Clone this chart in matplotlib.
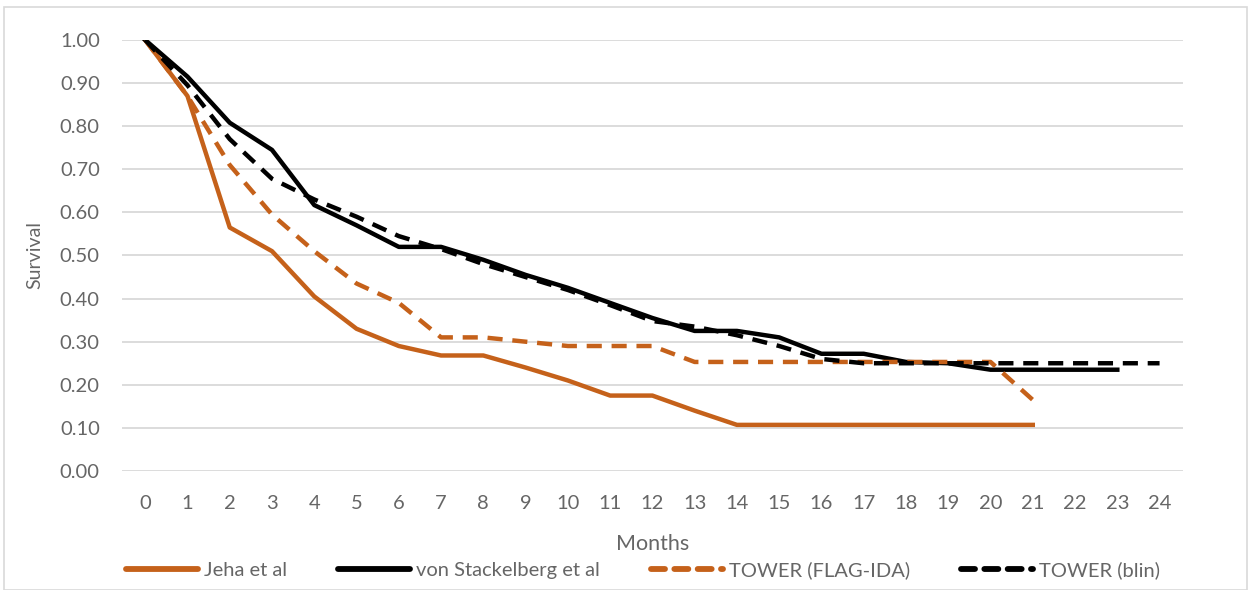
import matplotlib
matplotlib.use("Agg")
import matplotlib.pyplot as plt
from matplotlib.patches import Rectangle
from matplotlib.lines import Line2D

plt.rcParams['font.family'] = ['Lato', 'DejaVu Sans']

months = list(range(0, 25))
jeha = [1.00, 0.87, 0.565, 0.51, 0.405, 0.33, 0.29, 0.268, 0.268, 0.24, 0.21,
        0.175, 0.175, 0.14, 0.107, 0.107, 0.107, 0.107, 0.107, 0.107, 0.107, 0.107]
stackelberg = [1.00, 0.915, 0.808, 0.745, 0.617, 0.57, 0.52, 0.52, 0.49, 0.455, 0.425,
               0.39, 0.355, 0.325, 0.325, 0.31, 0.272, 0.272, 0.253, 0.25, 0.235,
               0.235, 0.235, 0.235]
tower_flag = [1.00, 0.87, 0.71, 0.595, 0.51, 0.435, 0.39, 0.31, 0.31, 0.30, 0.29,
              0.29, 0.29, 0.253, 0.253, 0.253, 0.253, 0.253, 0.253, 0.253, 0.253, 0.165]
tower_blin = [1.00, 0.895, 0.77, 0.678, 0.63, 0.59, 0.545, 0.515, 0.48, 0.45, 0.42,
              0.385, 0.348, 0.335, 0.315, 0.29, 0.26, 0.25, 0.25, 0.25, 0.25, 0.25,
              0.25, 0.25, 0.25]
y_ticks = [0.0, 0.1, 0.2, 0.3, 0.4, 0.5, 0.6, 0.7, 0.8, 0.9, 1.0]

orange = "#C5611A"
black = "#000000"
text_col = "#666666"
grid_col = "#D9D9D9"

fig = plt.figure(figsize=(12.51, 5.90), dpi=100)
fig.patches.append(Rectangle((0.003, 0.0), 0.994, 0.988, transform=fig.transFigure,
                             fill=False, edgecolor="#D9D9D9", linewidth=1.2))
ax = fig.add_axes([0.0975, 0.2017, 0.848, 0.7305])

lw = 3.2
dash = (3.4, 2.2)
ax.plot(months[:len(jeha)], jeha, color=orange, lw=lw, label="Jeha et al")
ax.plot(months[:len(stackelberg)], stackelberg, color=black, lw=lw,
        label="von Stackelberg et al")
ax.plot(months[:len(tower_flag)], tower_flag, color=orange, lw=lw, dashes=dash,
        label="TOWER (FLAG-IDA)")
ax.plot(months[:len(tower_blin)], tower_blin, color=black, lw=lw, dashes=dash,
        label="TOWER (blin)")

ax.set_xlim(-0.55, 24.55)
ax.set_ylim(0, 1.0)
ax.set_yticks(y_ticks)
ax.set_yticklabels([f"{v:.2f}" for v in y_ticks])
ax.set_xticks(months)
ax.set_xticklabels([str(m) for m in months])
ax.grid(axis="y", color=grid_col, linewidth=1.3)
ax.set_axisbelow(True)
for s in ax.spines.values():
    s.set_visible(False)
ax.tick_params(axis="both", length=0, labelsize=14.5, colors=text_col)
ax.tick_params(axis="x", pad=17)
ax.tick_params(axis="y", pad=16)

ax.set_ylabel("Survival", fontsize=14, color=text_col, labelpad=12)
ax.set_xlabel("Months", fontsize=15.5, color=text_col, labelpad=16)

handles = [
    Line2D([], [], color=orange, lw=4.2, solid_capstyle="round"),
    Line2D([], [], color=black, lw=4.2, solid_capstyle="round"),
    Line2D([], [], color=orange, lw=4.2, dashes=(2.4, 1.6), dash_capstyle="round"),
    Line2D([], [], color=black, lw=4.2, dashes=(2.4, 1.6), dash_capstyle="round"),
]
labels = ["Jeha et al", "von Stackelberg et al", "TOWER (FLAG-IDA)", "TOWER (blin)"]
fig.legend(handles, labels, loc="center", bbox_to_anchor=(0.514, 0.034), ncol=4,
           frameon=False, fontsize=14.5, handlelength=3.6, handletextpad=0.3,
           columnspacing=2.5, labelcolor=text_col)

fig.savefig("out.png", dpi=100, facecolor="white")
